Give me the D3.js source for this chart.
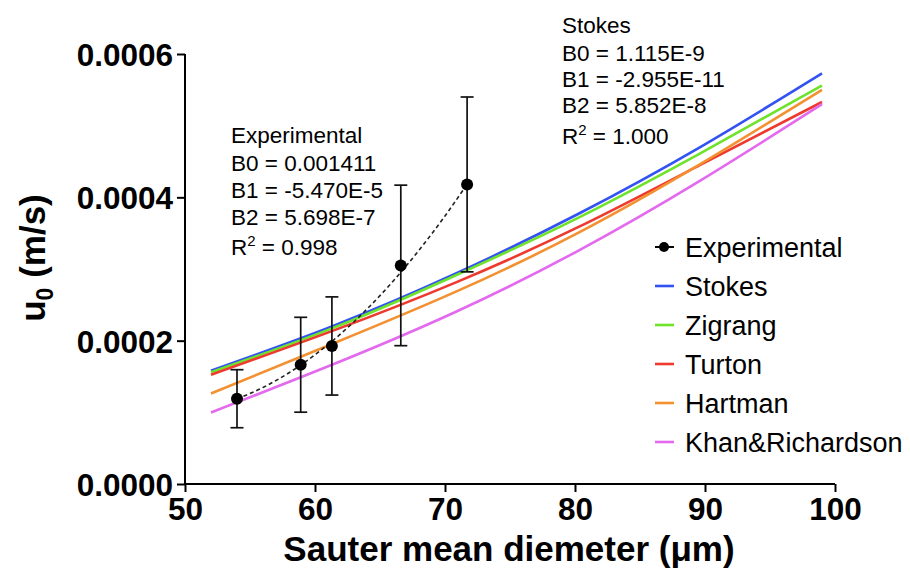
<!DOCTYPE html>
<html><head><meta charset="utf-8">
<script src="https://cdn.jsdelivr.net/npm/d3@7"></script>
<style>
body{margin:0;background:#fff;}
text{font-family:"Liberation Sans",Arial,Helvetica,sans-serif;fill:#000;}
</style></head>
<body><svg id="c" width="910" height="578"></svg>
<script>
// ---- data ----
const xTicks = [50, 60, 70, 80, 90, 100];
const yTicks = [0, 0.0002, 0.0004, 0.0006];

const expX    = [54.0, 58.9, 61.3, 66.6, 71.7];
const expMean = [0.000119, 0.0001664, 0.0001926, 0.000305, 0.000418];
const expSD   = [0.0000405, 0.0000662, 0.0000685, 0.000112, 0.000122];

const fitX = [54, 56, 58, 60, 62, 64, 66, 68, 70, 71.7];
const fitY = [0.0001187, 0.0001347, 0.0001552, 0.0001803, 0.0002099, 0.0002441, 0.0002828, 0.0003262, 0.000374, 0.0004183];

const modelX  = [52, 61.4, 70.8, 80.2, 89.6, 99];
const stokes  = [0.0001582, 0.0002206, 0.0002933, 0.0003764, 0.0004698, 0.000573];
const zigrang = [0.000156, 0.0002178, 0.000291, 0.000371, 0.000461, 0.000556];
const turton  = [0.0001524, 0.000214, 0.000281, 0.000358, 0.000445, 0.000533];
const hartman = [0.0001263, 0.000196, 0.000268, 0.000350, 0.000446, 0.000550];
const khan    = [0.0000997, 0.000167, 0.000240, 0.000325, 0.000423, 0.000530];

const seriesNames  = ["Stokes", "Zigrang", "Turton", "Hartman", "Khan&Richardson"];
const seriesValues = [stokes, zigrang, turton, hartman, khan];
const seriesColors = ["#3252f2", "#6fe22c", "#ee3a2e", "#f39030", "#e369ee"];

const expNote = ["Experimental", "B0 = 0.001411", "B1 = -5.470E-5", "B2 = 5.698E-7", "R|2| = 0.998"];
const stokesNote = ["Stokes", "B0 = 1.115E-9", "B1 = -2.955E-11", "B2 = 5.852E-8", "R|2| = 1.000"];

// ---- drawing ----
const svg = d3.select("#c");
const x = d3.scaleLinear().domain([50, 100]).range([185, 835]);
const y = d3.scaleLinear().domain([0, 0.0006]).range([484, 54]);

const line = d3.line().x(d => x(d[0])).y(d => y(d[1])).curve(d3.curveNatural);

// model curves
seriesValues.forEach((vals, i) => {
  svg.append("path")
    .attr("d", line(modelX.map((xx, j) => [xx, vals[j]])))
    .attr("fill", "none").attr("stroke", seriesColors[i]).attr("stroke-width", 2.6);
});

// experimental fit (dashed)
svg.append("path")
  .attr("d", d3.line().x(d => x(d[0])).y(d => y(d[1])).curve(d3.curveMonotoneX)(fitX.map((xx, j) => [xx, fitY[j]])))
  .attr("fill", "none").attr("stroke", "#222").attr("stroke-width", 1.6)
  .attr("stroke-dasharray", "4,3");

// error bars
const eb = svg.append("g").attr("stroke", "#111").attr("stroke-width", 1.7);
expX.forEach((xx, i) => {
  const cx = x(xx), t = y(expMean[i] + expSD[i]), b = y(expMean[i] - expSD[i]);
  eb.append("line").attr("x1", cx).attr("x2", cx).attr("y1", t).attr("y2", b);
  eb.append("line").attr("x1", cx - 6.5).attr("x2", cx + 6.5).attr("y1", t).attr("y2", t);
  eb.append("line").attr("x1", cx - 6.5).attr("x2", cx + 6.5).attr("y1", b).attr("y2", b);
});
svg.append("g").selectAll("circle").data(expX).join("circle")
  .attr("cx", d => x(d)).attr("cy", (d, i) => y(expMean[i])).attr("r", 6).attr("fill", "#000");

// axes
const gx = svg.append("g").attr("transform", "translate(0,484)")
  .call(d3.axisBottom(x).tickValues(xTicks).tickSize(8).tickPadding(4).tickFormat(d3.format("d")));
const gy = svg.append("g").attr("transform", "translate(185,0)")
  .call(d3.axisLeft(y).tickValues(yTicks).tickSize(8).tickPadding(4).tickFormat(d => d.toFixed(4)));
[gx, gy].forEach(g => {
  g.select(".domain").attr("stroke", "#000").attr("stroke-width", 2);
  g.selectAll(".tick line").attr("stroke", "#000").attr("stroke-width", 2);
  g.selectAll(".tick text").attr("font-family", '"Liberation Sans",Arial,sans-serif')
    .attr("font-size", 31.5).attr("font-weight", "bold").attr("fill", "#000");
});
gy.select(".domain").attr("d", "M0,54V484");
gx.select(".domain").attr("d", "M185,0H835");
gy.selectAll(".tick text").attr("dy", "0.36em");
gx.selectAll(".tick text").attr("dy", "0.76em");

// axis titles
svg.append("text").attr("x", 509).attr("y", 561).attr("text-anchor", "middle")
  .attr("font-size", 35).attr("font-weight", "bold").text("Sauter mean diemeter (μm)");
const yt = svg.append("text").attr("transform", "translate(45,258) rotate(-90)")
  .attr("text-anchor", "middle").attr("font-size", 35).attr("font-weight", "bold");
yt.append("tspan").text("u");
yt.append("tspan").attr("font-size", 23).attr("dy", 8).text("0");
yt.append("tspan").attr("dy", -8).text(" (m/s)");

// annotation blocks
function note(lines, x0, baselines) {
  lines.forEach((s, i) => {
    const t = svg.append("text").attr("x", x0).attr("y", baselines[i]).attr("font-size", 22.5);
    const parts = s.split("|");
    if (parts.length === 3) {
      t.append("tspan").text(parts[0]);
      t.append("tspan").attr("font-size", 15).attr("dy", -9).text(parts[1]);
      t.append("tspan").attr("dy", 9).text(parts[2]);
    } else t.text(s);
  });
}
note(expNote, 231, [143, 171, 198, 225, 255]);
note(stokesNote, 562, [33, 61, 87, 113, 144]);

// legend
const legY0 = 247, legStep = 39;
const lg = svg.append("g");
lg.append("line").attr("x1", 655).attr("x2", 674).attr("y1", legY0).attr("y2", legY0)
  .attr("stroke", "#000").attr("stroke-width", 2);
lg.append("circle").attr("cx", 664).attr("cy", legY0).attr("r", 5).attr("fill", "#000");
lg.append("text").attr("x", 685).attr("y", legY0 + 9.5).attr("font-size", 27).text("Experimental");
seriesNames.forEach((n, i) => {
  const yy = legY0 + legStep * (i + 1);
  lg.append("line").attr("x1", 655).attr("x2", 674).attr("y1", yy).attr("y2", yy)
    .attr("stroke", seriesColors[i]).attr("stroke-width", 2.6);
  lg.append("text").attr("x", 685).attr("y", yy + 9.5).attr("font-size", 27).text(n);
});
</script></body></html>
